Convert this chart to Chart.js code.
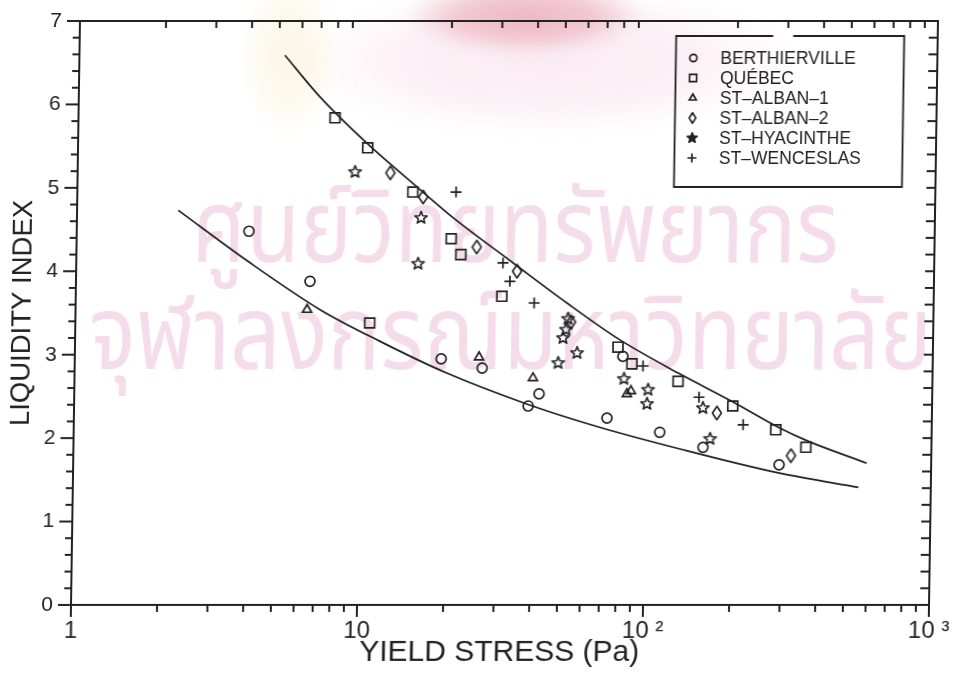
<!DOCTYPE html>
<html>
<head>
<meta charset="utf-8">
<script src="https://cdn.jsdelivr.net/npm/chart.js@4/dist/chart.umd.min.js"></script>
<style>
  html, body { margin: 0; padding: 0; background: #fff; }
  /* the plotted sheet sits very slightly sheared, as on the scanned page */
  #sheet { position: relative; width: 955px; height: 676px;
           transform: skewX(-0.88deg); transform-origin: 0 605px; }
  canvas { display: block; }
</style>
</head>
<body>
<div id="sheet"><canvas id="chart" width="955" height="676"></canvas></div>
<script>
// ---- data: [yield stress (Pa), liquidity index] ----
const berthierville = [[4.00,4.48],[6.58,3.88],[19.1,2.95],[26.6,2.84],[42.2,2.53],[38.7,2.385],
                       [73.1,2.24],[82.5,2.98],[112,2.07],[159,1.89],[294,1.68]];
const quebec        = [[7.89,5.84],[10.3,5.48],[14.9,4.95],[20.4,4.39],[22.1,4.20],[10.7,3.38],
                       [30.9,3.70],[79.2,3.09],[88.8,2.89],[129,2.68],[201,2.385],[285,2.10],[364,1.89]];
const stAlban1      = [[6.45,3.54],[25.9,2.97],[40.1,2.72],[85.6,2.53],[88.4,2.565]];
const stAlban2      = [[12.4,5.18],[16.2,4.89],[25.1,4.29],[34.8,4.00],[54.1,3.39],[177,2.30],[323,1.79]];
const stHyacinthe   = [[9.33,5.19],[15.96,4.64],[15.67,4.09],[52.8,3.43],[52.0,3.30],[50.8,3.20],
                       [57.0,3.02],[49.0,2.90],[83.4,2.71],[101.4,2.58],[100.7,2.41],[158,2.36],[168,1.99]];
const stWenceslas   = [[21.1,4.95],[31.05,4.10],[32.9,3.88],[40.1,3.62],[97.1,2.865],[153,2.49],[219,2.16]];

// upper and lower limit curves
const upperBound = [[5.23,6.59],[6.97,6.09],[10.34,5.52],[15.77,4.98],[20.7,4.64],[33.7,4.10],[52.2,3.62],
                    [79.3,3.19],[129,2.78],[202,2.43],[287,2.14],[366,1.97],[595,1.70]];
const lowerBound = [[2.26,4.73],[3.98,4.12],[7.16,3.54],[11.65,3.16],[20.0,2.78],[38.2,2.41],[67.4,2.14],
                    [132,1.87],[295,1.58],[558,1.41]];

const seriesNames = ['BERTHIERVILLE', 'QUÉBEC', 'ST–ALBAN–1', 'ST–ALBAN–2', 'ST–HYACINTHE', 'ST–WENCESLAS'];
const xTickLabels = ['1', '10', '10 ²', '10 ³'];
const xTitle = 'YIELD STRESS (Pa)';
const yTitle = 'LIQUIDITY INDEX';
const watermarkLines = ['ศูนย์วิทยทรัพยากร', 'จุฬาลงกรณ์มหาวิทยาลัย'];

const INK = '#222222';
const FONT = "'Liberation Sans', Arial, sans-serif";

// ---- marker glyphs not provided by Chart.js ----
function glyph(w, h, draw) {
  const c = document.createElement('canvas');
  c.width = w; c.height = h;
  const g = c.getContext('2d');
  g.strokeStyle = INK; g.fillStyle = INK; g.lineWidth = 1.6; g.lineJoin = 'round';
  draw(g, w / 2, h / 2);
  return c;
}
function starPath(g, cx, cy, ro, ri) {
  g.beginPath();
  for (let i = 0; i < 10; i++) {
    const r = i % 2 ? ri : ro, a = -Math.PI / 2 + i * Math.PI / 5;
    g.lineTo(cx + r * Math.cos(a), cy + r * Math.sin(a));
  }
  g.closePath();
}
function diamondPath(g, cx, cy, hw, hh) {
  g.beginPath();
  g.moveTo(cx, cy - hh); g.lineTo(cx + hw, cy); g.lineTo(cx, cy + hh); g.lineTo(cx - hw, cy);
  g.closePath();
}
const starOpen    = glyph(16, 16, (g, x, y) => { starPath(g, x, y, 6.4, 2.8); g.stroke(); });
const starFilled  = glyph(14, 14, (g, x, y) => { starPath(g, x, y, 5.2, 2.3); g.fill(); g.stroke(); });
const diamondBig  = glyph(12, 16, (g, x, y) => { diamondPath(g, x, y, 4.5, 6.7); g.stroke(); });
const diamondSmall= glyph(10, 14, (g, x, y) => { diamondPath(g, x, y, 3.3, 5.2); g.stroke(); });

const pts = a => a.map(([x, y]) => ({ x, y }));

function siteSet(name, data, style, radius, legendStyle, legendRadius) {
  return {
    label: name, data: pts(data), showLine: false,
    pointStyle: style, pointRadius: radius, pointHoverRadius: radius,
    pointBorderWidth: 1.7, pointBorderColor: INK, pointBackgroundColor: 'rgba(0,0,0,0)',
    legendStyle, legendRadius
  };
}
function curveSet(data) {
  return {
    type: 'line', label: '', data: pts(data), showLine: true, borderColor: INK, borderWidth: 1.7,
    pointRadius: 0, pointHoverRadius: 0, fill: false, cubicInterpolationMode: 'monotone'
  };
}

// ---- plugins ----
// faint library seal and stamp printed behind the plot
const watermark = {
  id: 'watermark',
  beforeDraw(chart) {
    const { ctx, chartArea: a } = chart;
    ctx.save();
    ctx.filter = 'blur(7px)';
    const blob = (cx, cy, rx, ry, rgb, alpha) => {
      const g = ctx.createRadialGradient(0, 0, 0, 0, 0, 1);
      g.addColorStop(0, `rgba(${rgb},${alpha})`);
      g.addColorStop(0.6, `rgba(${rgb},${alpha * 0.7})`);
      g.addColorStop(1, `rgba(${rgb},0)`);
      ctx.save();
      ctx.translate(cx, cy); ctx.scale(rx, ry);
      ctx.fillStyle = g;
      ctx.beginPath(); ctx.arc(0, 0, 1, 0, Math.PI * 2); ctx.fill();
      ctx.restore();
    };
    blob(a.left + 470, a.top + 40, 250, 75, '246,216,229', 0.5);
    blob(a.left + 210, a.top + 35, 48, 78, '249,240,214', 0.6);
    blob(a.left + 445, a.top - 5, 120, 38, '228,145,168', 0.62);
    ctx.restore();

    ctx.save();
    ctx.fillStyle = '#f5dcea';
    ctx.textBaseline = 'alphabetic';
    const fam = "'Noto Sans Thai', 'Noto Sans', 'DejaVu Sans', sans-serif";
    const rows = [{ t: watermarkLines[0], x0: a.left + 115, x1: a.left + 762, y: a.top + 241 },
                  { t: watermarkLines[1], x0: a.left + 14,  x1: a.left + 857, y: a.top + 348 }];
    rows.forEach(r => {
      ctx.font = '100px ' + fam;
      const w = ctx.measureText(r.t).width;
      const size = 100 * (r.x1 - r.x0) / w * 1.17;
      ctx.font = size.toFixed(1) + 'px ' + fam;
      ctx.save();
      ctx.translate(r.x0, r.y);
      ctx.scale(1 / 1.17, 1);
      ctx.fillText(r.t, 0, 0);
      ctx.restore();
    });
    ctx.restore();
  }
};

const frame = {
  id: 'frame',
  afterDraw(chart) {
    const ctx = chart.ctx, a = chart.chartArea;
    const xs = chart.scales.x, ys = chart.scales.y;
    ctx.save();
    ctx.strokeStyle = INK;
    ctx.lineWidth = 2;
    ctx.strokeRect(a.left, a.top, a.right - a.left, a.bottom - a.top);
    const seg = (x0, y0, x1, y1) => { ctx.beginPath(); ctx.moveTo(x0, y0); ctx.lineTo(x1, y1); ctx.stroke(); };
    // log ticks along the bottom (outward) and top (inward)
    [1, 10, 100, 1000].forEach(d => {
      for (let m = 1; m <= 9; m++) {
        const v = d * m;
        if (v > 1000) break;
        const px = xs.getPixelForValue(v);
        const major = m === 1;
        seg(px, a.bottom, px, a.bottom + (major ? 12 : 7));
        if (!major) seg(px, a.top, px, a.top + 7);
      }
    });
    // linear ticks on the left (outward) and right (inward)
    for (let k = 0; k <= 35; k++) {
      const py = ys.getPixelForValue(k / 5);
      const major = k % 5 === 0;
      seg(a.left + 1, py, a.left - (major ? 13 : 7), py);
      seg(a.right, py, a.right - 9, py);
    }
    ctx.restore();
  }
};

const keyBox = {
  id: 'keyBox',
  afterDraw(chart) {
    const { ctx, chartArea: a } = chart;
    const L = a.right - 261.5, R = a.right - 33.5, T = a.top + 15, B = a.top + 166;
    ctx.save();
    ctx.strokeStyle = INK; ctx.lineWidth = 1.8;
    ctx.beginPath();
    ctx.moveTo(L + 97, T); ctx.lineTo(L, T); ctx.lineTo(L, B); ctx.lineTo(R, B); ctx.lineTo(R, T); ctx.lineTo(L + 117, T);
    ctx.stroke();
    ctx.font = '17.5px ' + FONT;
    ctx.textBaseline = 'middle'; ctx.textAlign = 'left';
    chart.data.datasets.forEach((ds, i) => {
      if (!ds.legendStyle) return;
      const cy = T + 22 + i * 20, cx = L + 17.5;
      const st = ds.legendStyle;
      if (st instanceof HTMLCanvasElement) {
        ctx.drawImage(st, cx - st.width / 2, cy - st.height / 2);
      } else {
        ctx.fillStyle = 'rgba(0,0,0,0)';
        ctx.lineWidth = 1.7;
        Chart.helpers.drawPoint(ctx, { pointStyle: st, radius: ds.legendRadius, borderWidth: 1.7, rotation: 0 }, cx, cy);
      }
      ctx.fillStyle = INK;
      ctx.fillText(ds.label, L + 44.5, cy + 1);
    });
    ctx.restore();
  }
};

new Chart(document.getElementById('chart'), {
  type: 'scatter',
  data: {
    datasets: [
      siteSet(seriesNames[0], berthierville, 'circle', 5, 'circle', 3.6),
      siteSet(seriesNames[1], quebec, 'rect', 7, 'rect', 5),
      siteSet(seriesNames[2], stAlban1, 'triangle', 5.2, 'triangle', 4),
      siteSet(seriesNames[3], stAlban2, diamondBig, 5, diamondSmall, 4),
      siteSet(seriesNames[4], stHyacinthe, starOpen, 5, starFilled, 4),
      siteSet(seriesNames[5], stWenceslas, 'cross', 5.5, 'cross', 4.5),
      curveSet(upperBound),
      curveSet(lowerBound)
    ]
  },
  options: {
    responsive: false, animation: false,
    layout: { autoPadding: false, padding: { top: 21, right: 26, left: 0, bottom: 0 } },
    plugins: { legend: { display: false }, tooltip: { enabled: false } },
    scales: {
      x: {
        type: 'logarithmic', min: 1, max: 1000,
        grid: { display: false, drawTicks: false }, border: { display: false },
        ticks: {
          autoSkip: false, maxRotation: 0, minRotation: 0, padding: 12, color: INK,
          font: { family: FONT, size: 24 },
          callback(v) {
            const e = Math.log10(v);
            return Math.abs(e - Math.round(e)) < 1e-9 ? xTickLabels[Math.round(e)] : '';
          }
        },
        title: { display: true, text: xTitle, color: INK, font: { family: FONT, size: 30 }, padding: { top: 0, bottom: 5 } },
        afterFit(s) { s.height = 71; s.paddingLeft = 0; s.paddingRight = 0; }
      },
      y: {
        type: 'linear', min: 0, max: 7,
        grid: { display: false, drawTicks: false }, border: { display: false },
        ticks: { stepSize: 1, padding: 18, color: INK, font: { family: FONT, size: 21 } },
        title: { display: true, text: yTitle, color: INK, font: { family: FONT, size: 27.5 }, padding: { top: 2, bottom: 0 } },
        afterFit(s) { s.width = 71; s.paddingTop = 0; s.paddingBottom = 0; }
      }
    }
  },
  plugins: [watermark, frame, keyBox]
});
</script>
</body>
</html>
